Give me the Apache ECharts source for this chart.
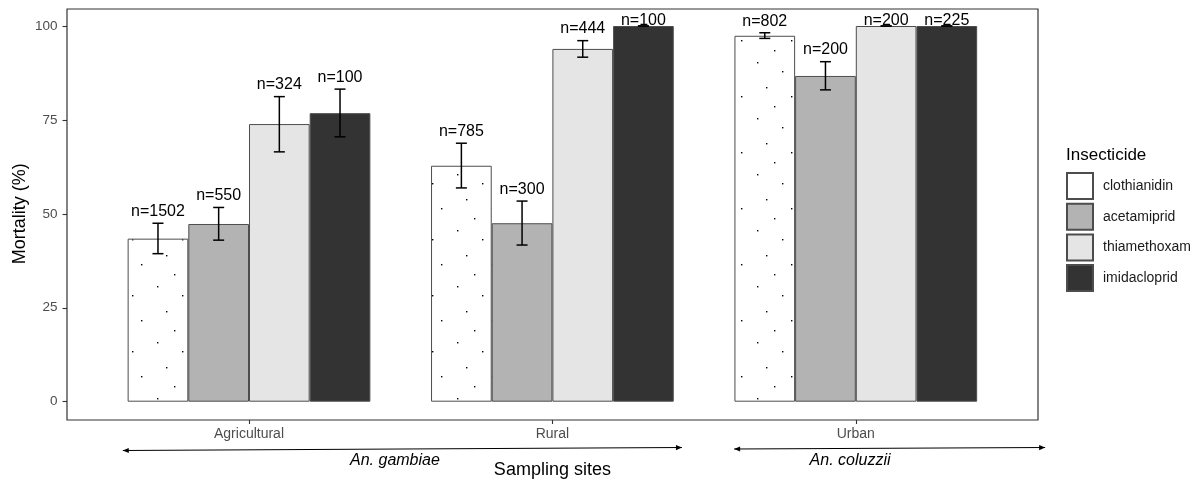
<!DOCTYPE html>
<html>
<head>
<meta charset="utf-8">
<script src="https://cdn.jsdelivr.net/npm/echarts@6/dist/echarts.min.js"></script>
<style>html,body{margin:0;padding:0;background:#fff;}#c{width:1200px;height:479px;}</style>
</head>
<body>
<div id="c"></div>
<script>
// ---- data ----
const categories = ['Agricultural', 'Rural', 'Urban'];
const insecticides = ['clothianidin', 'acetamiprid', 'thiamethoxam', 'imidacloprid'];
const yTicks = [0, 25, 50, 75, 100];

const clothianidin = [43.4, 62.8, 97.4];
const acetamiprid  = [47.3, 47.5, 86.7];
const thiamethoxam = [73.9, 93.9, 100];
const imidacloprid = [76.8, 100, 100];

const lowerClothianidin = [39.4, 56.9, 96.7];
const lowerAcetamiprid  = [43.0, 41.7, 83.0];
const lowerThiamethoxam = [66.5, 91.7, 100];
const lowerImidacloprid = [70.5, 100, 100];

const upperClothianidin = [47.5, 68.8, 98.2];
const upperAcetamiprid  = [51.7, 53.4, 90.5];
const upperThiamethoxam = [81.2, 96.1, 100];
const upperImidacloprid = [83.2, 100, 100];

const nClothianidin = [1502, 785, 802];
const nAcetamiprid  = [550, 300, 200];
const nThiamethoxam = [324, 444, 200];
const nImidacloprid = [100, 100, 225];

// species annotation (x in category units, y in mortality units)
const speciesNames = ['An. gambiae', 'An. coluzzii'];
const speciesArrowFrom = [[-0.416, -13.0], [1.599, -12.6]];
const speciesArrowTo   = [[1.427, -12.2], [2.624, -12.2]];
const speciesLabelAt   = [[0.481, -15.6], [1.981, -15.7]];

// ---- build ----
const means = [clothianidin, acetamiprid, thiamethoxam, imidacloprid];
const lowers = [lowerClothianidin, lowerAcetamiprid, lowerThiamethoxam, lowerImidacloprid];
const uppers = [upperClothianidin, upperAcetamiprid, upperThiamethoxam, upperImidacloprid];
const ns = [nClothianidin, nAcetamiprid, nThiamethoxam, nImidacloprid];
const colors = [null, '#B3B3B3', '#E5E5E5', '#333333'];

// dotted pattern for clothianidin
const tile = document.createElement('canvas');
tile.width = 50; tile.height = 56;
const tctx = tile.getContext('2d');
tctx.fillStyle = '#ffffff'; tctx.fillRect(0, 0, 50, 56);
tctx.fillStyle = '#000000';
[[7, 6], [32, 15], [16, 31], [41, 40], [24, 50]].forEach(p => tctx.fillRect(p[0], p[1], 1.4, 1.4));

const FONT = 'Liberation Sans, Arial, Helvetica, sans-serif';

const barSeries = insecticides.map((name, i) => ({
  name: name,
  type: 'bar',
  xAxisIndex: 0, yAxisIndex: 0,
  data: means[i],
  barGap: '0%',
  barCategoryGap: '20%',
  itemStyle: {
    color: i === 0 ? { image: tile, repeat: 'repeat' } : colors[i],
    borderColor: '#4d4d4d',
    borderWidth: 1
  },
  emphasis: { disabled: true },
  z: 2
}));

const errData = [];
insecticides.forEach((name, i) => {
  categories.forEach((c, j) => {
    errData.push([j, i, lowers[i][j], uppers[i][j], ns[i][j]]);
  });
});

const errSeries = {
  type: 'custom',
  xAxisIndex: 0, yAxisIndex: 0,
  silent: true,
  clip: false,
  z: 5,
  data: errData,
  renderItem: function (params, api) {
    const cat = api.value(0), s = api.value(1), lo = api.value(2), hi = api.value(3), n = api.value(4);
    const band = api.size([1, 0])[0];
    const bw = band * 0.8 / 4;
    const off = (s - 1.5) * bw;
    const pHi = api.coord([cat, hi]);
    const pLo = api.coord([cat, lo]);
    const x = pHi[0] + off;
    const hw = 5.5;
    const lab = api.coord([cat, Math.min(hi + 3.1, 101.4)]);
    const st = { stroke: '#000', lineWidth: 1.5 };
    return {
      type: 'group',
      children: [
        { type: 'line', shape: { x1: x, y1: pLo[1], x2: x, y2: pHi[1] }, style: st },
        { type: 'line', shape: { x1: x - hw, y1: pHi[1], x2: x + hw, y2: pHi[1] }, style: st },
        { type: 'line', shape: { x1: x - hw, y1: pLo[1], x2: x + hw, y2: pLo[1] }, style: st },
        { type: 'text', style: { text: 'n=' + n, x: x, y: lab[1], align: 'center', verticalAlign: 'middle',
            fontSize: 16, fontFamily: FONT, fill: '#000' } }
      ]
    };
  }
};

const arrowData = speciesNames.map((nm, k) => [
  speciesArrowFrom[k][0], speciesArrowFrom[k][1], speciesArrowTo[k][0], speciesArrowTo[k][1],
  speciesLabelAt[k][0], speciesLabelAt[k][1], k
]);

function head(tip, from, len, hw) {
  const dx = tip[0] - from[0], dy = tip[1] - from[1];
  const d = Math.sqrt(dx * dx + dy * dy);
  const ux = dx / d, uy = dy / d;
  const bx = tip[0] - ux * len, by = tip[1] - uy * len;
  return [[tip[0], tip[1]], [bx - uy * hw, by + ux * hw], [bx + uy * hw, by - ux * hw]];
}

const arrowSeries = {
  type: 'custom',
  xAxisIndex: 1, yAxisIndex: 0,
  silent: true,
  clip: false,
  z: 5,
  data: arrowData,
  renderItem: function (params, api) {
    const a = api.coord([api.value(0), api.value(1)]);
    const b = api.coord([api.value(2), api.value(3)]);
    const l = api.coord([api.value(4), api.value(5)]);
    const k = api.value(6);
    return {
      type: 'group',
      children: [
        { type: 'line', shape: { x1: a[0], y1: a[1], x2: b[0], y2: b[1] }, style: { stroke: '#000', lineWidth: 1.1 } },
        { type: 'polygon', shape: { points: head(b, a, 6, 2.6) }, style: { fill: '#000' } },
        { type: 'polygon', shape: { points: head(a, b, 6, 2.6) }, style: { fill: '#000' } },
        { type: 'text', style: { text: speciesNames[k], x: l[0], y: l[1], align: 'center', verticalAlign: 'middle',
            fontSize: 16, fontStyle: 'italic', fontFamily: FONT, fill: '#000' } }
      ]
    };
  }
};

const chart = echarts.init(document.getElementById('c'), null, { renderer: 'canvas' });
chart.setOption({
  animation: false,
  backgroundColor: '#fff',
  textStyle: { fontFamily: FONT },
  title: {
    text: 'Insecticide',
    left: 1066, top: 147, padding: 0,
    textStyle: { fontSize: 17, fontWeight: 'normal', color: '#000', fontFamily: FONT }
  },
  legend: {
    orient: 'vertical',
    left: 1066, top: 172,
    padding: 0,
    itemWidth: 26, itemHeight: 26, itemGap: 2.7,
    icon: 'rect',
    selectedMode: false,
    textStyle: { fontSize: 14, color: '#1a1a1a', fontFamily: FONT, padding: [0, 0, 0, 5] },
    data: insecticides.map((nm, i) => i === 0 ? { name: nm, itemStyle: { color: '#ffffff' } } : { name: nm })
  },
  grid: [
    { left: 97.3, top: 26, width: 910.2, height: 375.7, containLabel: false, outerBoundsMode: 'none' },
    { left: 67, top: 9, width: 971, height: 411, show: true, borderColor: '#333333', borderWidth: 1.2,
      backgroundColor: 'transparent', z: 10, containLabel: false, outerBoundsMode: 'none' }
  ],
  xAxis: [
    {
      type: 'category', gridIndex: 0, data: categories,
      offset: 18.3,
      axisLine: { show: false, onZero: false },
      axisTick: { show: true, alignWithLabel: true, length: 4, lineStyle: { color: '#333333', width: 1.1 } },
      axisLabel: { fontSize: 14, color: '#4d4d4d', margin: 7.5, fontFamily: FONT },
      splitLine: { show: false },
      name: 'Sampling sites', nameLocation: 'middle', nameGap: 41, nameMoveOverlap: false,
      nameTextStyle: { fontSize: 18, color: '#000', fontFamily: FONT }
    },
    { type: 'value', gridIndex: 0, min: -0.5, max: 2.5, show: false, axisLine: { onZero: false } },
    { type: 'value', gridIndex: 1, show: false, axisLine: { onZero: false } }
  ],
  yAxis: [
    {
      type: 'value', gridIndex: 0, min: 0, max: 100, interval: 25,
      offset: 30.3,
      axisLine: { show: false, onZero: false },
      axisTick: { show: true, length: 4.5, lineStyle: { color: '#333333', width: 1.1 } },
      axisLabel: { fontSize: 13.5, color: '#4d4d4d', margin: 9.5, fontFamily: FONT,
        formatter: v => (yTicks.indexOf(v) >= 0 ? String(v) : '') },
      splitLine: { show: false },
      name: 'Mortality (%)', nameLocation: 'middle', nameRotate: 90, nameGap: 38, nameMoveOverlap: false,
      nameTextStyle: { fontSize: 18, color: '#000', fontFamily: FONT }
    },
    { type: 'value', gridIndex: 1, show: false, axisLine: { onZero: false } }
  ],
  series: barSeries.concat([errSeries, arrowSeries])
});
</script>
</body>
</html>
